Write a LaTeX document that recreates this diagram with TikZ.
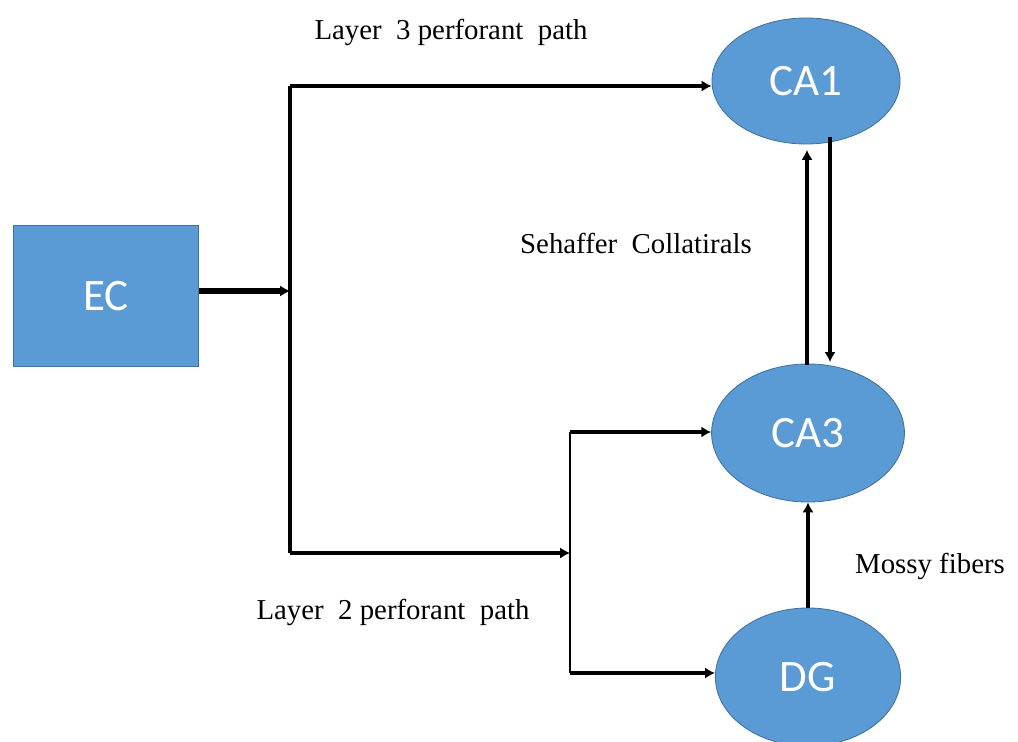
\documentclass[tikz,border=0pt]{standalone}
\usepackage{fontspec}
\setmainfont{Liberation Serif}
\newfontfamily\boxfont{Carlito}
\usetikzlibrary{shapes.geometric,arrows.meta}

\definecolor{regionfill}{RGB}{91,155,213}
\definecolor{regionedge}{RGB}{65,113,156}

\tikzset{
  region/.style={fill=regionfill, draw=regionedge, line width=0.6pt,
    text=white, font=\boxfont\fontsize{32}{38}\selectfont, inner sep=0pt},
  oval/.style={region, ellipse},
  pathlabel/.style={font=\fontsize{20.5}{24}\selectfont, inner sep=0pt},
  fibre/.style={line width=3.5pt, -{Latex[length=7pt,width=8pt]}},
  trunk/.style={line width=2.8pt},
  thinline/.style={line width=1.1pt}
}

\begin{document}
\begin{tikzpicture}[x=0.025cm, y=-0.025cm]
    % Canvas
    \useasboundingbox (0,0) rectangle (1018,742);

    % Regions
    \node[region, minimum width=4.63cm, minimum height=3.53cm] (ec) at (106,296) {EC};
    \node[oval, minimum width=4.7cm, minimum height=3.15cm] (ca1) at (806,81) {CA1};
    \node[oval, minimum width=4.82cm, minimum height=3.45cm] (ca3) at (808,433) {CA3};
    \node[oval, minimum width=4.63cm, minimum height=3.45cm] (dg) at (808,677) {DG};

    % Junction points
    \coordinate (split) at (290,291);
    \coordinate (top) at (290,86);
    \coordinate (bottom) at (290,553);
    \coordinate (fork) at (570,553);
    \coordinate (forkup) at (570,432);
    \coordinate (forkdown) at (570,673);

    % Schaffer ends
    \coordinate (scupfoot) at (807,365);
    \coordinate (scuphead) at (807,150);
    \coordinate (scdownfoot) at (830,137);
    \coordinate (scdownhead) at (830,362);

    % EC output
    \draw[fibre, line width=4.5pt] (ec.east |- split) -- (split);
    \draw[trunk] (top) -- (bottom);

    % Layer 3 perforant path
    \draw[fibre] (top) -- (ca1.west |- top);

    % Layer 2 perforant path
    \draw[fibre] (bottom) -- (fork);
    \draw[thinline] (forkup) -- (forkdown);
    \draw[fibre] (forkup) -- (ca3.west |- forkup);
    \draw[fibre] (forkdown) -- (dg.west |- forkdown);

    % Schaffer collaterals
    \draw[fibre] (scupfoot) -- (scuphead);
    \draw[fibre] (scdownfoot) -- (scdownhead);

    % Mossy fibers
    \draw[fibre] (dg.north) -- (ca3.south);

    % Labels
    \node[pathlabel] (l3) at (451,32) {Layer~~3 perforant~~path};
    \node[pathlabel] (sc) at (636,243) {Sehaffer~~Collatirals};
    \node[pathlabel] (mf) at (930,566) {Mossy fibers};
    \node[pathlabel] (l2) at (393,612) {Layer~~2 perforant~~path};

\end{tikzpicture}
\end{document}
